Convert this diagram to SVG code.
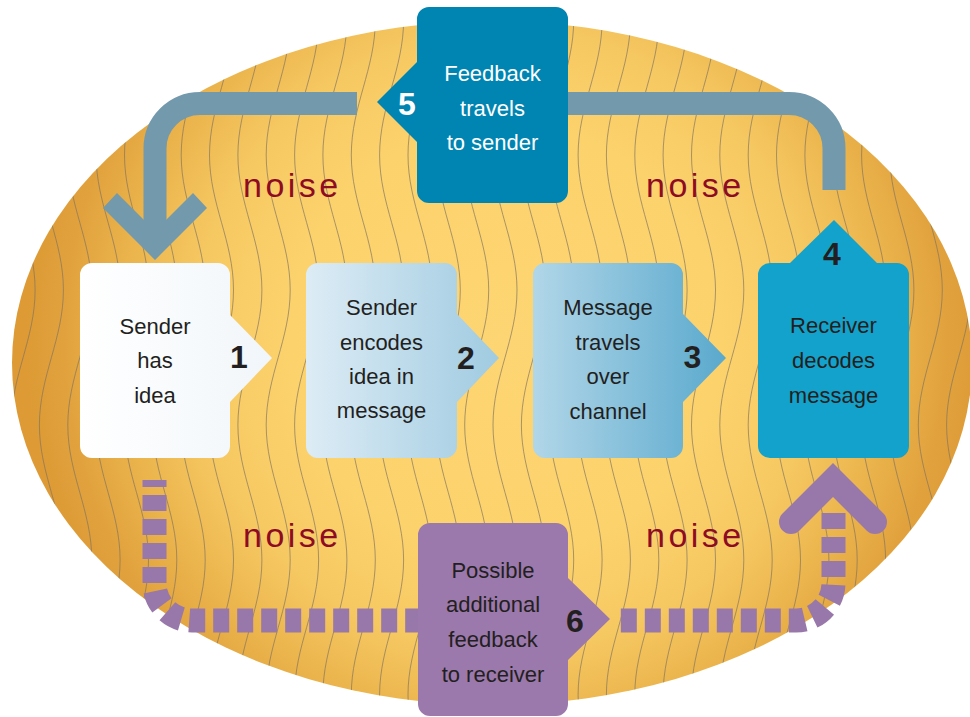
<svg xmlns="http://www.w3.org/2000/svg" width="970" height="717" viewBox="0 0 970 717">
  <defs>
    <radialGradient id="ovalFill" gradientUnits="userSpaceOnUse" cx="505" cy="340" r="480">
      <stop offset="0" stop-color="#FDD572"/>
      <stop offset="0.45" stop-color="#FCD26C"/>
      <stop offset="0.65" stop-color="#F6C862"/>
      <stop offset="0.8" stop-color="#EBB44C"/>
      <stop offset="0.92" stop-color="#E1A23D"/>
      <stop offset="1" stop-color="#DD9A35"/>
    </radialGradient>
    <linearGradient id="g1" x1="0" y1="0" x2="1" y2="0">
      <stop offset="0" stop-color="#FFFFFF"/>
      <stop offset="1" stop-color="#F1F6FA"/>
    </linearGradient>
    <linearGradient id="g2" x1="0" y1="0" x2="1" y2="0">
      <stop offset="0" stop-color="#DDECF5"/>
      <stop offset="1" stop-color="#A0CBE1"/>
    </linearGradient>
    <linearGradient id="g3" x1="0" y1="0" x2="1" y2="0">
      <stop offset="0" stop-color="#B1D6E8"/>
      <stop offset="1" stop-color="#5AA9CD"/>
    </linearGradient>
    <clipPath id="ovalClip">
      <ellipse cx="492" cy="363" rx="480" ry="342"/>
    </clipPath>
    <!-- one wavy "noise" thread, repeated across the oval -->
    <path id="wave" d="M 12 -250 C 12 -201 -12 -164 -12 -115 C -12 -66 12 -29 12 20 C 12 69 -12 106 -12 155 C -12 204 12 241 12 290 C 12 339 -12 376 -12 425 C -12 474 12 511 12 560 C 12 609 -12 646 -12 695 C -12 744 12 781 12 830"/>
    <style>
      .thread { fill: none; stroke: #7f7462; stroke-width: 0.8; stroke-opacity: 0.85; }
      .noise { font-family: "Liberation Sans", Arial, sans-serif; font-size: 34px; letter-spacing: 3.5px; fill: #8E0B24; }
      .label { font-family: "Liberation Sans", Arial, sans-serif; font-size: 22px; fill: #231F20; text-anchor: middle; }
      .label.light { fill: #FFFFFF; }
      .num { font-family: "Liberation Sans", Arial, sans-serif; font-size: 32px; font-weight: bold; fill: #231F20; text-anchor: middle; }
      .num.light { fill: #FFFFFF; }
      .feedback { fill: none; stroke: #7399AC; stroke-width: 23; }
      .extra { fill: none; stroke: #9878AA; stroke-width: 24; stroke-dasharray: 16 8; }
    </style>
  </defs>

  <!-- background oval -->
  <ellipse cx="492" cy="363" rx="480" ry="342" fill="url(#ovalFill)"/>

  <!-- wavy threads -->
  <g clip-path="url(#ovalClip)" class="thread">
    <use href="#wave" x="-5.3"/>
    <use href="#wave" x="23.1"/>
    <use href="#wave" x="51.4"/>
    <use href="#wave" x="79.8"/>
    <use href="#wave" x="108.1"/>
    <use href="#wave" x="136.5"/>
    <use href="#wave" x="164.8"/>
    <use href="#wave" x="193.2"/>
    <use href="#wave" x="221.5"/>
    <use href="#wave" x="249.9"/>
    <use href="#wave" x="278.2"/>
    <use href="#wave" x="306.6"/>
    <use href="#wave" x="334.9"/>
    <use href="#wave" x="363.3"/>
    <use href="#wave" x="391.6"/>
    <use href="#wave" x="420"/>
    <use href="#wave" x="448.3"/>
    <use href="#wave" x="476.7"/>
    <use href="#wave" x="505"/>
    <use href="#wave" x="533.4"/>
    <use href="#wave" x="561.7"/>
    <use href="#wave" x="590.1"/>
    <use href="#wave" x="618.4"/>
    <use href="#wave" x="646.8"/>
    <use href="#wave" x="675.1"/>
    <use href="#wave" x="703.5"/>
    <use href="#wave" x="731.8"/>
    <use href="#wave" x="760.2"/>
    <use href="#wave" x="788.5"/>
    <use href="#wave" x="816.9"/>
    <use href="#wave" x="845.2"/>
    <use href="#wave" x="873.6"/>
    <use href="#wave" x="901.9"/>
    <use href="#wave" x="930.3"/>
    <use href="#wave" x="958.6"/>
    <use href="#wave" x="987"/>
  </g>

  <!-- noise labels -->
  <g id="noise-labels">
    <text class="noise" x="243" y="197">noise</text>
    <text class="noise" x="646" y="197">noise</text>
    <text class="noise" x="243" y="547">noise</text>
    <text class="noise" x="646" y="547">noise</text>
  </g>

  <!-- connectors -->
  <g id="connectors">
    <!-- feedback to sender -->
    <path class="feedback" d="M 357 103.5 H 200 A 45 45 0 0 0 155 148.5 V 235"/>
    <polygon fill="#7399AC" points="103,208 155,260 207,208 193,193 155,231 117,193"/>
    <path class="feedback" d="M 560 103.5 H 789 A 45 45 0 0 1 834 148.5 V 190"/>
    <!-- additional feedback to receiver -->
    <path class="extra" stroke-dashoffset="9" d="M 154.5 480 V 583 A 37.5 37.5 0 0 0 192 620.5 H 418"/>
    <path class="extra" d="M 833.5 513 V 583 A 37.5 37.5 0 0 1 796 620.5 H 618"/>
    <path d="M 791 522 L 833 480 L 875 522" fill="none" stroke="#9878AA" stroke-width="24" stroke-linecap="round" stroke-linejoin="miter"/>
  </g>

  <!-- step 1 -->
  <g id="step1">
    <path fill="url(#g1)" d="M 92 263 H 218 A 12 12 0 0 1 230 275 V 315 L 272 358 L 230 402 V 446 A 12 12 0 0 1 218 458 H 92 A 12 12 0 0 1 80 446 V 275 A 12 12 0 0 1 92 263 Z"/>
    <text class="label" x="155" y="334">Sender</text>
    <text class="label" x="155" y="368">has</text>
    <text class="label" x="155" y="403">idea</text>
    <text class="num" x="239" y="368">1</text>
  </g>

  <!-- step 2 -->
  <g id="step2">
    <path fill="url(#g2)" d="M 318 263 H 445 A 12 12 0 0 1 457 275 V 314 L 499 358 L 457 402 V 446 A 12 12 0 0 1 445 458 H 318 A 12 12 0 0 1 306 446 V 275 A 12 12 0 0 1 318 263 Z"/>
    <text class="label" x="381.5" y="315">Sender</text>
    <text class="label" x="381.5" y="350">encodes</text>
    <text class="label" x="381.5" y="384">idea in</text>
    <text class="label" x="381.5" y="418">message</text>
    <text class="num" x="466" y="369">2</text>
  </g>

  <!-- step 3 -->
  <g id="step3">
    <path fill="url(#g3)" d="M 545 263 H 671 A 12 12 0 0 1 683 275 V 314 L 726 358 L 683 402 V 446 A 12 12 0 0 1 671 458 H 545 A 12 12 0 0 1 533 446 V 275 A 12 12 0 0 1 545 263 Z"/>
    <text class="label" x="608" y="315">Message</text>
    <text class="label" x="608" y="350">travels</text>
    <text class="label" x="608" y="384">over</text>
    <text class="label" x="608" y="419">channel</text>
    <text class="num" x="692.5" y="368">3</text>
  </g>

  <!-- step 4 -->
  <g id="step4">
    <path fill="#13A2CB" d="M 770 263 H 790 L 834 220 L 877 263 H 897 A 12 12 0 0 1 909 275 V 446 A 12 12 0 0 1 897 458 H 770 A 12 12 0 0 1 758 446 V 275 A 12 12 0 0 1 770 263 Z"/>
    <text class="label" x="833.5" y="333">Receiver</text>
    <text class="label" x="833.5" y="368">decodes</text>
    <text class="label" x="833.5" y="403">message</text>
    <text class="num" x="832" y="265">4</text>
  </g>

  <!-- step 5 -->
  <g id="step5">
    <path fill="#0085B2" d="M 429 7 H 556 A 12 12 0 0 1 568 19 V 191 A 12 12 0 0 1 556 203 H 429 A 12 12 0 0 1 417 191 V 142 L 377 102 L 417 62 V 19 A 12 12 0 0 1 429 7 Z"/>
    <text class="label light" x="492.5" y="81">Feedback</text>
    <text class="label light" x="492.5" y="116">travels</text>
    <text class="label light" x="492.5" y="150">to sender</text>
    <text class="num light" x="407" y="115">5</text>
  </g>

  <!-- step 6 -->
  <g id="step6">
    <path fill="#9C79AC" d="M 430 523 H 556 A 12 12 0 0 1 568 535 V 578 L 610 619 L 568 660 V 704 A 12 12 0 0 1 556 716 H 430 A 12 12 0 0 1 418 704 V 535 A 12 12 0 0 1 430 523 Z"/>
    <text class="label" x="493" y="578">Possible</text>
    <text class="label" x="493" y="612">additional</text>
    <text class="label" x="493" y="647">feedback</text>
    <text class="label" x="493" y="682">to receiver</text>
    <text class="num" x="575" y="632">6</text>
  </g>
</svg>
